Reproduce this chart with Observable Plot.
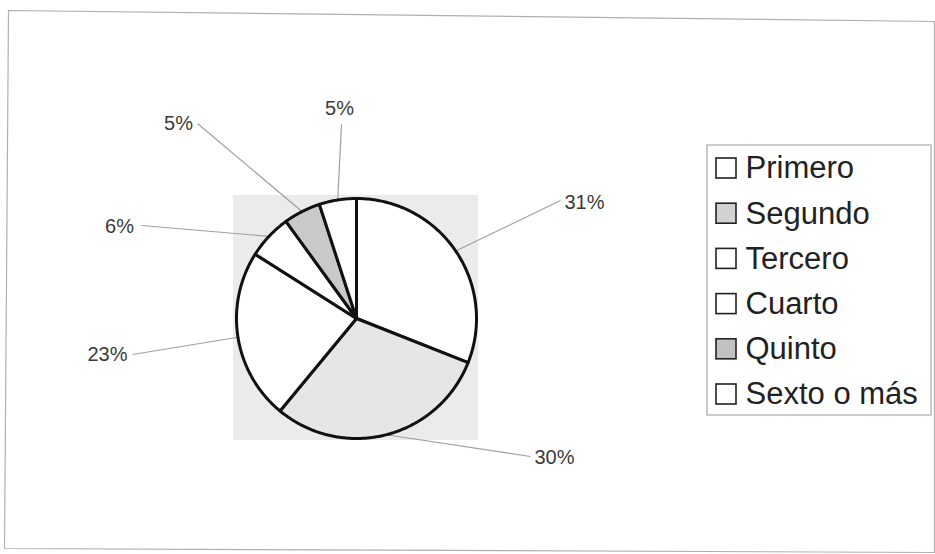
<!DOCTYPE html>
<html><head><meta charset="utf-8">
<script src="https://cdn.jsdelivr.net/npm/d3@7"></script>
<script src="https://cdn.jsdelivr.net/npm/@observablehq/plot@0.6"></script>
<style>body{margin:0;background:#fff;overflow:hidden}</style>
</head><body><div id="chart"></div>
<script>
// ---- data ----
const categories = ["Primero", "Segundo", "Tercero", "Cuarto", "Quinto", "Sexto o más"];
const percentages = [31, 30, 23, 6, 5, 5];
const percentLabels = ["31%", "30%", "23%", "6%", "5%", "5%"];
const sliceColors = ["#ffffff", "#e6e6e6", "#ffffff", "#ffffff", "#c9c9c9", "#ffffff"];
const legendColors = ["#ffffff", "#d2d2d2", "#ffffff", "#ffffff", "#c2c2c2", "#ffffff"];

// ---- layout ----
const W = 935, H = 554, cx = 356, cy = 318, R = 120;
const labelPos = [[584, 202], [554, 457], [107, 354], [119, 226], [178, 123], [339, 108]];
const leaderStart = [[560, 200], [530, 456], [132, 354], [141, 225], [197, 123], [341, 124]];
const legendX = 716, legendTop = 168, legendStep = 45.2, box = 20;

const arcs = d3.pie().sort(null).value(d => d)(percentages);
const wedgePts = [];
arcs.forEach((p, i) => {
  const n = Math.max(4, Math.ceil((p.endAngle - p.startAngle) / 0.01));
  wedgePts.push({cat: categories[i], color: sliceColors[i], x: cx, y: cy});
  for (let k = 0; k <= n; k++) {
    const a = p.startAngle + (p.endAngle - p.startAngle) * k / n;
    wedgePts.push({cat: categories[i], color: sliceColors[i], x: cx + R * Math.sin(a), y: cy - R * Math.cos(a)});
  }
});
const leaders = arcs.map((p, i) => {
  const a = (p.startAngle + p.endAngle) / 2;
  return {x1: leaderStart[i][0], y1: leaderStart[i][1], x2: cx + R * Math.sin(a), y2: cy - R * Math.cos(a)};
});
const labels = percentLabels.map((t, i) => ({text: t, x: labelPos[i][0], y: labelPos[i][1]}));
const legend = categories.map((c, i) => ({cat: c, color: legendColors[i], y: legendTop + legendStep * i}));
const frame = [{x: 8, y: 10}, {x: 934, y: 21}, {x: 934, y: 552}, {x: 4, y: 548}];

const chart = Plot.plot({
  width: W, height: H,
  marginTop: 0, marginRight: 0, marginBottom: 0, marginLeft: 0,
  x: {domain: [0, W], range: [0, W], axis: null},
  y: {domain: [0, H], range: [0, H], axis: null},
  color: {type: "identity"},
  style: {fontFamily: "'Liberation Sans', Arial, sans-serif", background: "#fff"},
  marks: [
    Plot.line(frame, {x: "x", y: "y", curve: "linear-closed", stroke: "#b0b0b0", strokeWidth: 1.2}),
    Plot.rect([0], {x1: () => cx - R - 3, x2: () => cx + R + 2, y1: () => cy - R - 3, y2: () => cy + R + 2, fill: "#ebebeb"}),
    Plot.link(leaders, {x1: "x1", y1: "y1", x2: "x2", y2: "y2", stroke: "#a0a0a0", strokeWidth: 1.2}),
    Plot.line(wedgePts, {x: "x", y: "y", z: "cat", fill: "color", stroke: "#111", strokeWidth: 3, curve: "linear-closed", strokeLinejoin: "round"}),
    Plot.text(labels, {x: "x", y: "y", text: "text", fontSize: 20, fill: "#3a3a3a"}),
    Plot.rect([0], {x1: () => 707, x2: () => 931, y1: () => 145, y2: () => 415, fill: "#fff", stroke: "#a8a8a8", strokeWidth: 1.2}),
    Plot.rect(legend, {x1: () => legendX, x2: () => legendX + box, y1: d => d.y - box / 2, y2: d => d.y + box / 2, fill: "color", stroke: "#222", strokeWidth: 1.6}),
    Plot.text(legend, {x: () => 745, y: "y", text: "cat", textAnchor: "start", fontSize: 31, fill: "#222"})
  ]
});
document.getElementById("chart").append(chart);
</script>
</body></html>
